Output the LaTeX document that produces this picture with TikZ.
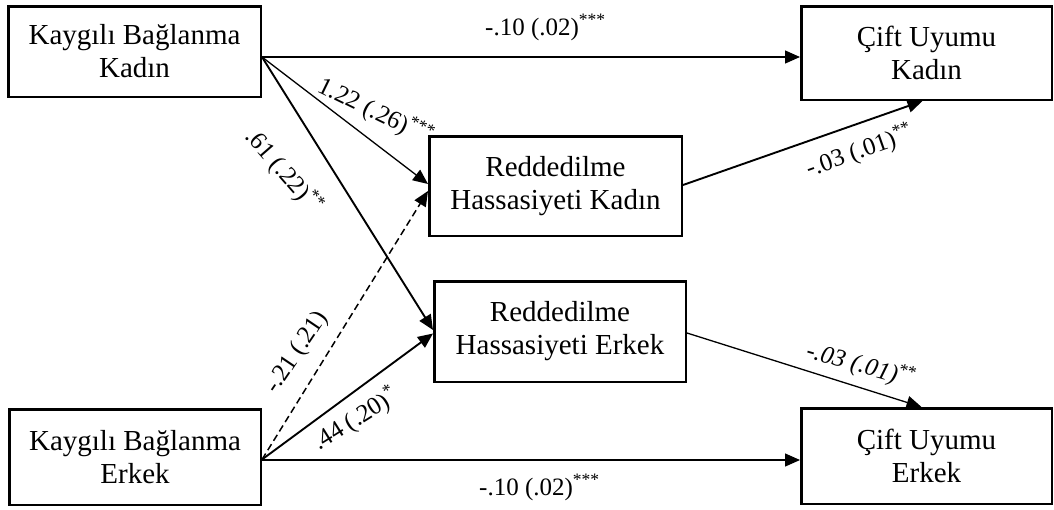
\documentclass[tikz,border=0pt]{standalone}
\usepackage{fontspec}
\setmainfont{Liberation Serif}
\usetikzlibrary{arrows.meta}
\begin{document}
\begin{tikzpicture}[x=1pt,y=-1pt,
  varbox/.style={draw, line width=2.5pt, align=center, inner sep=0pt,
    font=\fontsize{29}{33}\selectfont},
  lbl/.style={inner sep=0pt, font=\fontsize{25}{28}\selectfont},
  path/.style={line width=1.3pt, -{Triangle[length=15pt,width=13pt]}},
  thickpath/.style={path, line width=1.9pt},
  dashpath/.style={path, line width=1.5pt, dash pattern=on 7pt off 4pt}]
\useasboundingbox (0,0) rectangle (1054,509);
% boxes
\node[varbox, minimum width=252.5pt, minimum height=90.5pt] (kbk) at (134.5,51.5) {Kaygılı Bağlanma\\Kadın};
\node[varbox, minimum width=250.5pt, minimum height=93.5pt] (cuk) at (926.5,53) {Çift Uyumu\\Kadın};
\node[varbox, minimum width=252.5pt, minimum height=99.5pt] (rhk) at (555.5,186) {Reddedilme\\Hassasiyeti Kadın};
\node[varbox, minimum width=251.5pt, minimum height=100.5pt] (rhe) at (560,331.5) {Reddedilme\\Hassasiyeti Erkek};
\node[varbox, minimum width=251.5pt, minimum height=95.5pt] (kbe) at (135,457) {Kaygılı Bağlanma\\Erkek};
\node[varbox, minimum width=250.5pt, minimum height=95.5pt] (cue) at (926.5,456) {Çift Uyumu\\Erkek};
% connectors
\draw[path] ([yshift=-5.5pt]kbk.east) -- ([yshift=-4pt]cuk.west);
\draw[path] ([yshift=-5.5pt]kbk.east) -- ([yshift=2pt]rhk.west);
\draw[thickpath] ([yshift=-5.5pt]kbk.east) -- ([yshift=1.5pt]rhe.west);
\draw[dashpath] ([yshift=-2.5pt]kbe.east) -- ([yshift=-5pt]rhk.west);
\draw[thickpath] ([yshift=-2.5pt]kbe.east) -- ([yshift=-2pt]rhe.west);
\draw[path] ([yshift=-3pt]kbe.east) -- ([yshift=-4pt]cue.west);
\draw[thickpath] ([yshift=1pt]rhk.east) -- ([xshift=-4pt]cuk.south);
\draw[path] ([yshift=-1.5pt]rhe.east) -- ([xshift=-5pt]cue.north);
% labels
\node[lbl, anchor=base west] (l1) at (485,35) {-.10 (.02)\textsuperscript{***}};
\node[lbl, anchor=base west, rotate=-26] (l2) at (316,91) {1.22 (.26)\textsuperscript{***}};
\node[lbl, anchor=base west, rotate=-49] (l3) at (244,137) {.61 (.22)\textsuperscript{**}};
\node[lbl, anchor=base west, rotate=56] (l4) at (276,395) {-.21 (.21)};
\node[lbl, anchor=base west, rotate=32] (l5) at (319,451) {.44 (.20)\textsuperscript{*}};
\node[lbl, anchor=base west] (l6) at (479,495) {-.10 (.02)\textsuperscript{***}};
\node[lbl, anchor=base west, rotate=19.5] (l7) at (809,177) {-.03 (.01)\textsuperscript{**}};
\node[lbl, anchor=base west, rotate=-16] (l8) at (805,357) {\textit{-.03 (.01)}\textsuperscript{**}};
\end{tikzpicture}
\end{document}
